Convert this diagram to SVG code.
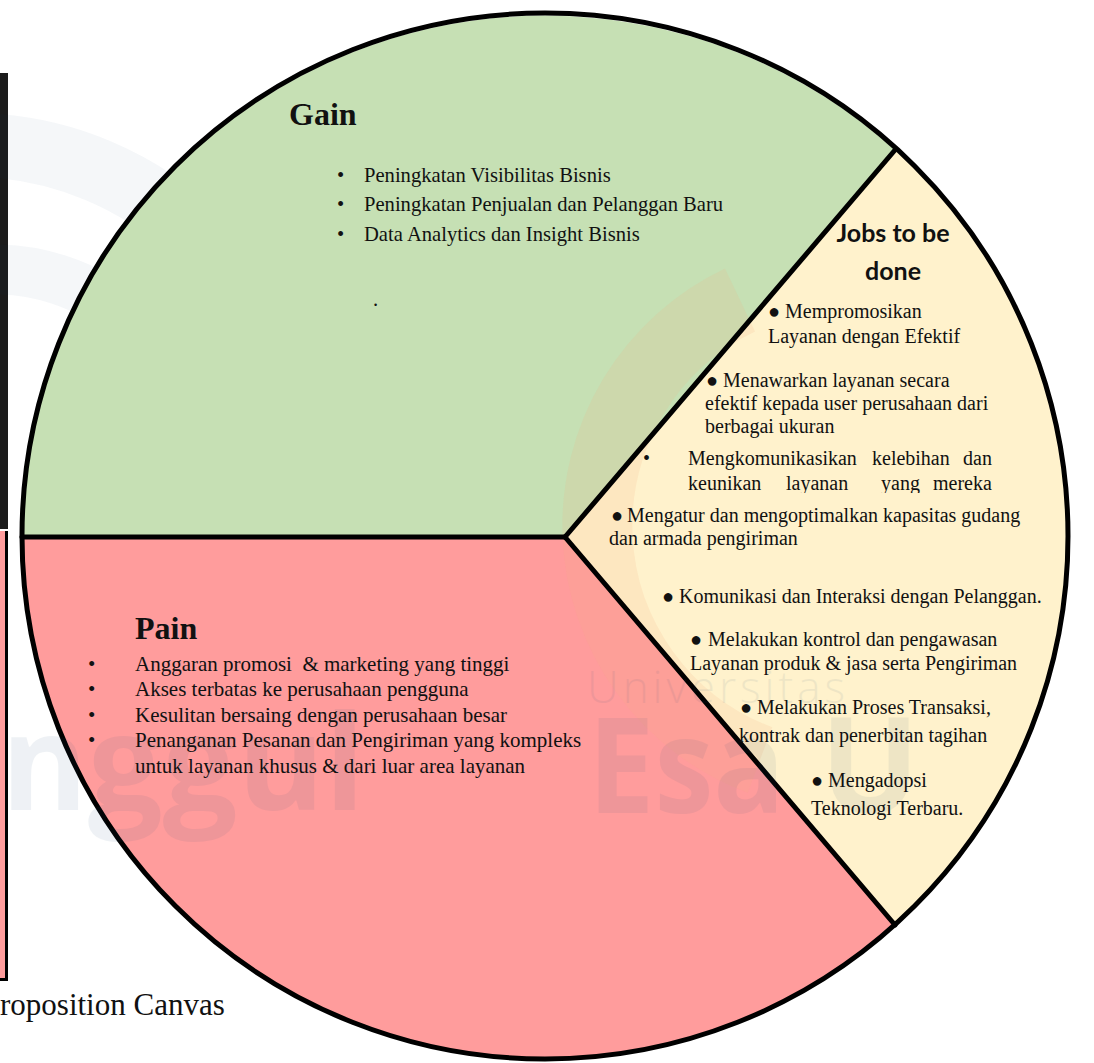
<svg xmlns="http://www.w3.org/2000/svg" width="1094" height="1063" viewBox="0 0 1094 1063">
<defs>
<style>
.t{font-family:"Liberation Serif","Times New Roman",serif;fill:#111;}
.g{font-size:20.6px;}
.j{font-size:20px;}
.p{font-size:21px;}
.h{font-family:"Liberation Serif","Times New Roman",serif;font-weight:bold;font-size:32px;fill:#111;}
.jh{font-family:Lato,"Open Sans",sans-serif;font-weight:bold;font-size:25px;fill:#111;}
.edge{fill:none;stroke:#000;stroke-width:5;stroke-linejoin:round;stroke-linecap:round;}
.wm{font-family:"Open Sans","Liberation Sans",sans-serif;fill:#1f4e79;opacity:0.07;}
.arc{fill:none;stroke:#1f4e79;opacity:0.045;}
.b{font-size:20px;}
</style>
<clipPath id="clip3"><rect x="600" y="440" width="420" height="53"/></clipPath>
</defs>
<rect x="0" y="0" width="1094" height="1063" fill="#fff"/>

<!-- left cropped frame -->
<g id="left-frame">
<rect x="0" y="73" width="8" height="456" fill="#1b1b1b"/>
<rect x="0" y="531" width="5" height="448" fill="#ff9c9c"/>
<line x1="6.5" y1="531" x2="6.5" y2="981" stroke="#000" stroke-width="3"/>
<line x1="0" y1="979.5" x2="8" y2="979.5" stroke="#000" stroke-width="3"/>
<text class="t" x="0" y="1015" font-size="31">roposition Canvas</text>
</g>

<!-- faint background logo arcs -->
<g id="bg-arcs">
<path class="arc" d="M -20 145 A 330 330 0 0 1 300 470" stroke-width="64"/>
<path class="arc" d="M -20 270 A 205 205 0 0 1 200 470" stroke-width="50"/>
</g>

<g id="gain">
<path d="M565,537 L22,537 A523,523 0 0 1 895,150 Z" fill="#c6e0b4"/>
</g>
<g id="jobs">
<path d="M565,537 L895,150 A523,523 0 0 1 895,925 Z" fill="#fff2cc"/>
</g>
<g id="pain">
<path d="M565,537 L895,925 A523,523 0 0 1 22,537 Z" fill="#ff9c9c"/>
</g>

<g id="right-arcs">
<path d="M 740 300 A 250 250 0 0 0 760 760" fill="none" stroke="#f4b183" stroke-width="70" opacity="0.16"/>
</g>

<g id="connectors">
<circle class="edge" cx="545" cy="536" r="523"/>
<path class="edge" d="M22,537 L565,537"/>
<path class="edge" d="M565,537 L895,150"/>
<path class="edge" d="M565,537 L895,925"/>
</g>

<!-- watermark -->
<g id="watermark">
<text class="wm" x="587" y="703" font-size="44" letter-spacing="4" font-weight="300">Universitas</text>
<text class="wm" x="588" y="813" font-size="132" font-weight="bold" textLength="197" lengthAdjust="spacingAndGlyphs">Esa</text>
<text class="wm" x="820" y="813" font-size="132" font-weight="bold">U</text>
<text class="wm" x="1" y="810" font-size="132" font-weight="bold" textLength="364" lengthAdjust="spacingAndGlyphs">nggul</text>
</g>

<g id="gain-text">
<text class="h" x="289" y="125">Gain</text>
<text class="t g" x="337" y="181.5">•<tspan x="364">Peningkatan Visibilitas Bisnis</tspan></text>
<text class="t g" x="337" y="211">•<tspan x="364">Peningkatan Penjualan dan Pelanggan Baru</tspan></text>
<text class="t g" x="337" y="240.5">•<tspan x="364">Data Analytics dan Insight Bisnis</tspan></text>
<text class="t g" x="373" y="306">.</text>
</g>

<g id="jobs-text">
<text class="jh" x="893" y="242" text-anchor="middle">Jobs to be</text>
<text class="jh" x="893" y="280" text-anchor="middle">done</text>
<text class="t j" x="768" y="318"><tspan class="b">●</tspan><tspan x="785">Mempromosikan</tspan></text>
<text class="t j" x="768" y="343">Layanan dengan Efektif</text>
<text class="t j" x="706" y="386.7"><tspan class="b">●</tspan><tspan x="723">Menawarkan layanan secara</tspan></text>
<text class="t j" x="705" y="410">efektif kepada user perusahaan dari</text>
<text class="t j" x="705" y="433">berbagai ukuran</text>
<text class="t j" x="643" y="465">•<tspan x="688">Mengkomunikasikan</tspan><tspan x="872">kelebihan</tspan><tspan x="963">dan</tspan></text>
<text class="t j" clip-path="url(#clip3)" x="688" y="490">keunikan<tspan x="786">layanan</tspan><tspan x="881">yang</tspan><tspan x="933">mereka</tspan></text>
<text class="t j" x="611" y="522"><tspan class="b">●</tspan><tspan x="627">Mengatur dan mengoptimalkan kapasitas gudang</tspan></text>
<text class="t j" x="609" y="545">dan armada pengiriman</text>
<text class="t j" x="662" y="602.7"><tspan class="b">●</tspan><tspan x="679">Komunikasi dan Interaksi dengan Pelanggan.</tspan></text>
<text class="t j" x="690" y="645.7"><tspan class="b">●</tspan><tspan x="708">Melakukan kontrol dan pengawasan</tspan></text>
<text class="t j" x="690" y="670">Layanan produk &amp; jasa serta Pengiriman</text>
<text class="t j" x="740" y="714"><tspan class="b">●</tspan><tspan x="757">Melakukan Proses Transaksi,</tspan></text>
<text class="t j" x="739" y="741.7">kontrak dan penerbitan tagihan</text>
<text class="t j" x="811" y="786.7"><tspan class="b">●</tspan><tspan x="828">Mengadopsi</tspan></text>
<text class="t j" x="811" y="815">Teknologi Terbaru.</text>
</g>

<g id="pain-text">
<text class="h" x="135" y="639">Pain</text>
<text class="t p" x="88" y="670.7">•</text>
<text class="t p" x="135" y="670.7">Anggaran promosi&#160; &amp; marketing yang tinggi</text>
<text class="t p" x="88" y="696">•</text>
<text class="t p" x="135" y="696">Akses terbatas ke perusahaan pengguna</text>
<text class="t p" x="88" y="721.7">•</text>
<text class="t p" x="135" y="721.7">Kesulitan bersaing dengan perusahaan besar</text>
<text class="t p" x="88" y="747.3">•</text>
<text class="t p" x="135" y="747.3">Penanganan Pesanan dan Pengiriman yang kompleks</text>
<text class="t p" x="135" y="772.7">untuk layanan khusus &amp; dari luar area layanan</text>
</g>
</svg>
